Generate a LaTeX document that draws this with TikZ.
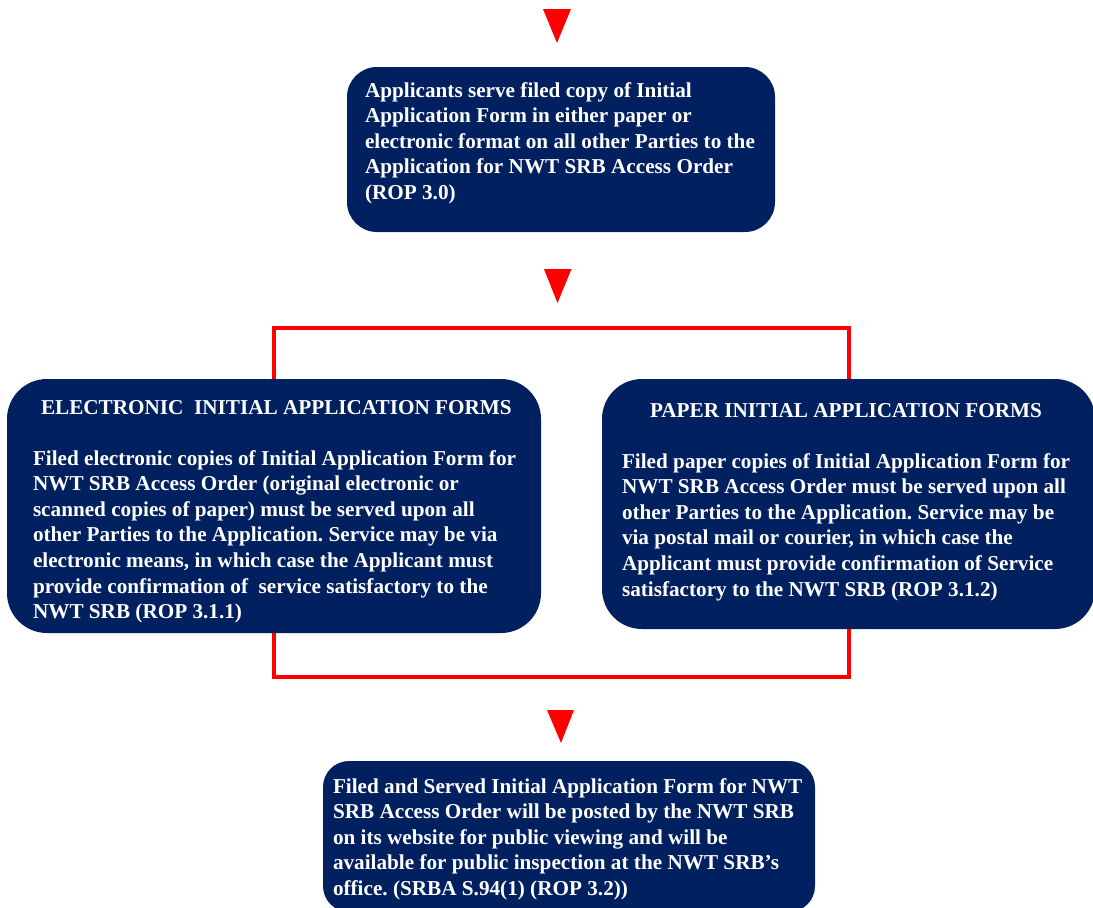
\documentclass[tikz,border=0pt]{standalone}
\usepackage{fontspec}
\setmainfont{Liberation Serif}
\definecolor{navy}{RGB}{0,32,96}
\definecolor{flowred}{RGB}{255,0,0}
\frenchspacing
\begin{document}
\begin{tikzpicture}[x=1pt,y=-1pt,
  box/.style={rectangle, fill=navy, inner sep=0pt, outer sep=0pt},
  txt/.style={inner sep=0pt, outer sep=0pt, anchor=base west, align=left, text=white,
              font=\fontsize{21.2}{25.6}\selectfont\bfseries\frenchspacing},
  redline/.style={draw=flowred, line width=4pt},
  tri/.style={fill=flowred}]
\useasboundingbox (0,0) rectangle (1093,908);
\fill[white] (0,0) rectangle (1093,908);

% boxes
\node[box, rounded corners=30pt, minimum width=428pt, minimum height=165pt] (top) at (561,149.5) {};
\node[box, rounded corners=40pt, minimum width=534pt, minimum height=254pt] (L) at (274,506) {};
\node[box, rounded corners=40pt, minimum width=493pt, minimum height=250pt] (R) at (848.5,504) {};
\node[box, rounded corners=26pt, minimum width=492pt, minimum height=151pt] (bot) at (569,836.5) {};

% texts (anchor = baseline of the last line)
\node[txt] (toptext) at (365,199.4) {Applicants serve filed copy of Initial\\
Application Form in either paper or\\
electronic format on all other Parties to the\\
Application for NWT SRB Access Order\\
(ROP 3.0)};

\node[txt] (Ltitle) at (41,414) {ELECTRONIC\ \ INITIAL APPLICATION FORMS};
\node[txt] (Ltext) at (33,618.6) {Filed electronic copies of Initial Application Form for\\
NWT SRB Access Order (original electronic or\\
scanned copies of paper) must be served upon all\\
other Parties to the Application. Service may be via\\
electronic means, in which case the Applicant must\\
provide confirmation of\ \ service satisfactory to the\\
NWT SRB (ROP 3.1.1)};

\node[txt] (Rtitle) at (650,417) {PAPER INITIAL APPLICATION FORMS};
\node[txt] (Rtext) at (622,596) {Filed paper copies of Initial Application Form for\\
NWT SRB Access Order must be served upon all\\
other Parties to the Application. Service may be\\
via postal mail or courier, in which case the\\
Applicant must provide confirmation of Service\\
satisfactory to the NWT SRB (ROP 3.1.2)};

\node[txt] (bottext) at (333,895.4) {Filed and Served Initial Application Form for NWT\\
SRB Access Order will be posted by the NWT SRB\\
on its website for public viewing and will be\\
available for public inspection at the NWT SRB’s\\
office. (SRBA S.94(1) (ROP 3.2))};

% triangles
\fill[tri] (543,9) -- (571,9) -- (557,43) -- cycle;
\fill[tri] (544,269) -- (571.5,269) -- (557.5,303) -- cycle;
\fill[tri] (547,710) -- (574,710) -- (561,743) -- cycle;

% connectors
\coordinate (topbar) at (561,327.5);
\coordinate (botbar) at (561,676.5);
\draw[redline] (L.north) -- (L.north |- topbar) -| (R.north);
\draw[redline] (L.south) -- (L.south |- botbar) -| (R.south);
\end{tikzpicture}
\end{document}
